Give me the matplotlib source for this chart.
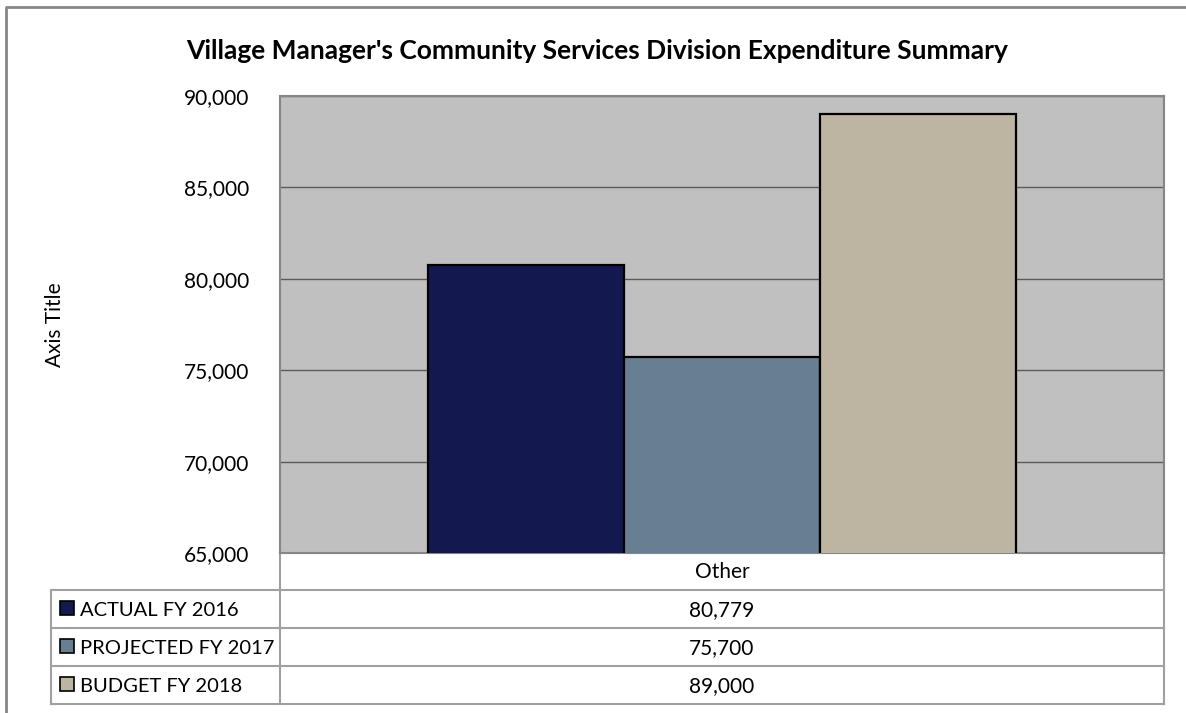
import matplotlib.pyplot as plt
from matplotlib.patches import Rectangle
from matplotlib.ticker import FuncFormatter

plt.rcParams['font.family'] = ['Lato', 'DejaVu Sans']

title = "Village Manager's Community Services Division Expenditure Summary"
category = 'Other'
series = ['ACTUAL FY 2016', 'PROJECTED FY 2017', 'BUDGET FY 2018']
values = [80779, 75700, 89000]
colors = ['#13184F', '#687F93', '#BDB5A2']

W, H = 1186, 713
fig = plt.figure(figsize=(W / 100, H / 100), dpi=100)

# pixel-space overlay for the frame, title and data table
over = fig.add_axes([0, 0, 1, 1])
over.set_xlim(0, W)
over.set_ylim(H, 0)
over.axis('off')

# plot area
L, R, T, B = 280, 1164, 96, 553
ax = fig.add_axes([L / W, 1 - B / H, (R - L) / W, (B - T) / H])
ax.set_facecolor('#C0C0C0')
ax.set_ylim(65000, 90000)
ax.set_xlim(-0.5, 0.5)
ax.set_yticks(range(65000, 90001, 5000))
ax.yaxis.set_major_formatter(FuncFormatter(lambda v, p: f'{int(v):,}'))
ax.tick_params(axis='y', length=0, pad=22, labelsize=15)
ax.set_xticks([])
ax.grid(axis='y', color='#5A5A5A', linewidth=1)
ax.set_axisbelow(True)
for s in ax.spines.values():
    s.set_color('#868686')
    s.set_linewidth(1.5)

w = 0.2217
for i, (v, c) in enumerate(zip(values, colors)):
    ax.bar((i - 1) * w, v, width=w, color=c, edgecolor='black', linewidth=1.6, zorder=3)

fig.text(55 / W, 1 - 325 / H, 'Axis Title', rotation=90, ha='center', va='center', fontsize=15)
fig.text(597 / W, 1 - 51 / H, title, ha='center', va='center', fontsize=19, fontweight='bold')

# outer chart border
over.plot([6, 6, W], [H, 7, 7], color='#868686', linewidth=2)

# data table below the plot
line_kw = dict(color='#A0A0A0', linewidth=1.5)
rows = [553, 590, 628, 666, 704]
over.plot([R, R], [rows[0], rows[-1]], **line_kw)
over.plot([L, L], [rows[0], rows[-1]], **line_kw)
over.plot([51, 51], [rows[1], rows[-1]], **line_kw)
for y in rows[1:]:
    over.plot([51, R], [y, y], **line_kw)

cx = (L + R) / 2
over.text(cx, (rows[0] + rows[1]) / 2 + 1, category, ha='center', va='center', fontsize=15)
for i, (name, v, c) in enumerate(zip(series, values, colors)):
    yc = (rows[i + 1] + rows[i + 2]) / 2
    over.add_patch(Rectangle((60, yc - 8), 14, 14, facecolor=c, edgecolor='black', linewidth=1.2))
    over.text(80, yc + 1, name, ha='left', va='center', fontsize=14.5)
    over.text(cx, yc + 1, f'{v:,}', ha='center', va='center', fontsize=15)

fig.savefig('out.png', dpi=100)
